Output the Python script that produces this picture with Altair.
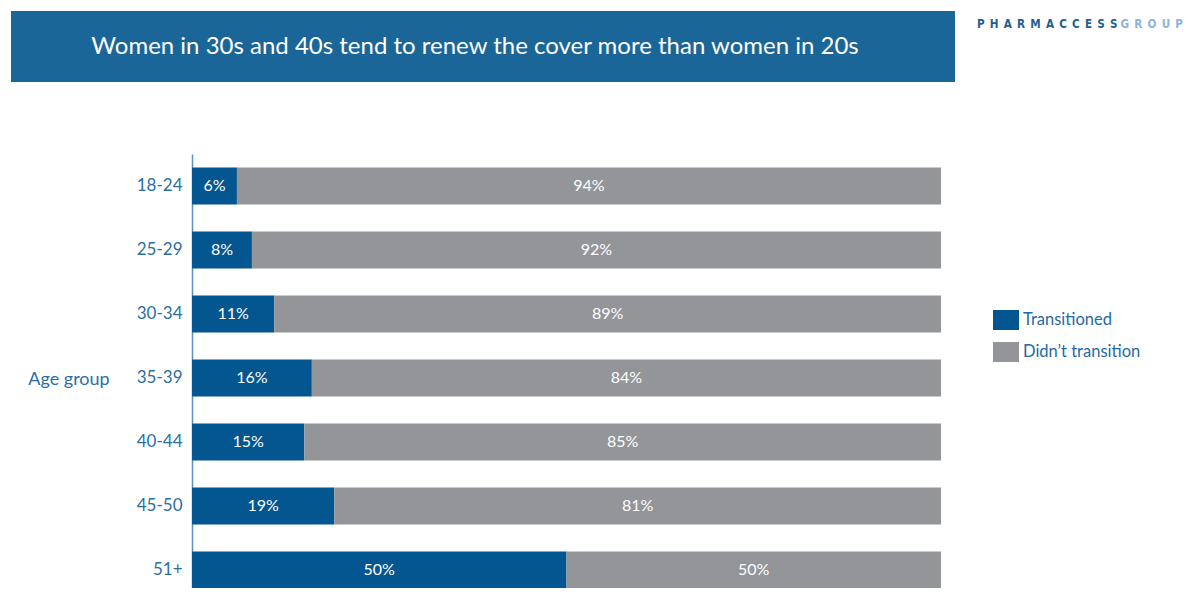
import altair as alt
import pandas as pd

ages = ["18-24", "25-29", "30-34", "35-39", "40-44", "45-50", "51+"]
transitioned = [6, 8, 11, 16, 15, 19, 50]
didnt_transition = [94, 92, 89, 84, 85, 81, 50]
series = ["Transitioned", "Didn\u2019t transition"]
colors = ["#03568f", "#939598"]

title_text = "Women in 30s and 40s tend to renew the cover more than women in 20s"
logo_main = "PHARMACCESS"
logo_sub = "GROUP"

rows = []
for a, t, d in zip(ages, transitioned, didnt_transition):
    rows.append({"age": a, "status": series[0], "value": t, "start": 0, "end": t})
    rows.append({"age": a, "status": series[1], "value": d, "start": t, "end": t + d})
df = pd.DataFrame(rows)
df["mid"] = (df["start"] + df["end"]) / 2
df["label"] = df["value"].astype(str) + "%"

FONT = "Lato"
AXIS_BLUE = "#2b6ea6"

W, H = 749, 434

y_enc = alt.Y(
    "age:N",
    sort=ages,
    scale=alt.Scale(range=[0, 448], paddingInner=0.42, paddingOuter=0.21),
    axis=alt.Axis(
        title=None, ticks=False, labelPadding=10, labelFontSize=17,
        labelColor=AXIS_BLUE, labelFont=FONT, domainColor="#5b94c4",
        domainWidth=1.5, grid=False,
    ),
)

x_scale = alt.Scale(domain=[0, 100], nice=False)

bars = alt.Chart(df).mark_bar(cornerRadius=0).encode(
    x=alt.X("start:Q", scale=x_scale, axis=None),
    x2="end:Q",
    y=y_enc,
    color=alt.Color(
        "status:N",
        scale=alt.Scale(domain=series, range=colors),
        legend=alt.Legend(
            title=None, orient="none", legendX=804, legendY=156,
            symbolType="M-1.3,-1L1.3,-1L1.3,1L-1.3,1Z", symbolSize=400,
            symbolStrokeWidth=0, symbolOpacity=1,
            labelFontSize=16.5, labelColor="#1f6aa5", labelFont=FONT,
            labelOffset=7, rowPadding=12, padding=0,
        ),
    ),
)

labels = alt.Chart(df).mark_text(
    color="white", fontSize=16, font=FONT, baseline="middle"
).encode(
    x=alt.X("mid:Q", scale=x_scale),
    y=alt.Y("age:N", sort=ages),
    text="label:N",
)

one = pd.DataFrame({"t": [title_text], "m": [logo_main], "s": [logo_sub], "g": ["Age group"]})

title_box = alt.Chart(one).mark_rect(color="#1b6698").encode(
    x=alt.value(-181), x2=alt.value(763), y=alt.value(-143), y2=alt.value(-72)
)
title_txt = alt.Chart(one).mark_text(
    color="white", fontSize=24, font=FONT, align="center", baseline="middle"
).encode(x=alt.value(283), y=alt.value(-107), text="t:N")

logo1 = alt.Chart(one).transform_calculate(
    sp="join(split(datum.m, ''), '\u2002')"
).mark_text(
    color="#1f5f8f", fontSize=11.6, font="DejaVu Sans Condensed", fontWeight="bold",
    align="left", baseline="alphabetic",
).encode(x=alt.value(785), y=alt.value(-126), text="sp:N")
logo2 = alt.Chart(one).transform_calculate(
    sp="join(split(datum.s, ''), '\u2002')"
).mark_text(
    color="#8fb3db", fontSize=11.6, font="DejaVu Sans Condensed", fontWeight="bold",
    align="right", baseline="alphabetic",
).encode(x=alt.value(991), y=alt.value(-126), text="sp:N")

age_lbl = alt.Chart(one).mark_text(
    color=AXIS_BLUE, fontSize=18, font=FONT, align="center", baseline="middle"
).encode(x=alt.value(-123), y=alt.value(226), text="g:N")

chart = alt.layer(
    bars, labels, title_box, title_txt, logo1, logo2, age_lbl
).properties(
    width=W, height=H,
    autosize=alt.AutoSizeParams(type="none"),
    padding={"left": 184, "top": 146, "right": 244, "bottom": 0},
).configure_view(stroke=None)

chart.save("out.html", embed_options={"renderer": "svg", "actions": False})
